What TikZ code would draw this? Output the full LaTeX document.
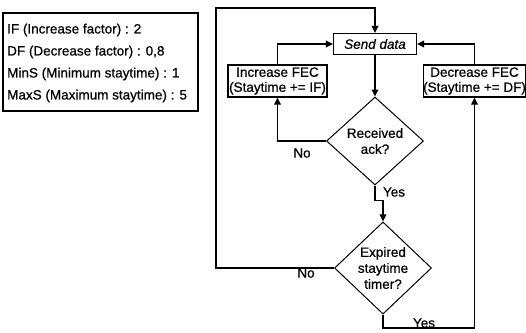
\documentclass[tikz,border=0pt]{standalone}
\usepackage{fontspec}
\setmainfont{Liberation Sans}
\usetikzlibrary{shapes.geometric,arrows.meta}
\newcommand{\heavy}{\addfontfeature{FakeBold=0.6}}
\begin{document}
\begin{tikzpicture}[x=1pt,y=-1pt,
 box/.style={draw,line width=1.1pt,inner sep=0pt,align=center,font={\fontsize{13.5}{15}\selectfont\heavy}},
 decision/.style={draw,diamond,line width=1pt,inner sep=0pt,aspect=1,align=center,font={\fontsize{13.5}{16}\selectfont\heavy}},
 conn/.style={line width=1.8pt},
 arr/.style={conn,-{Triangle[length=7pt,width=6.5pt]}},
 lbl/.style={font={\fontsize{13.5}{15}\selectfont\heavy},inner sep=0pt},
 leg/.style={anchor=west,inner sep=0pt,font={\fontsize{13.5}{15}\selectfont\heavy}}]
\useasboundingbox (0,0) rectangle (526,332);
% legend
\node[draw,line width=1.1pt,minimum width=195pt,minimum height=98pt,inner sep=0pt] (legend) at (100.5,62) {};
\node[leg] (l1) at (7,30) {IF (Increase factor) : 2};
\node[leg] (l2) at (7,52) {DF (Decrease factor) : 0,8};
\node[leg] (l3) at (7,74) {MinS (Minimum staytime) : 1};
\node[leg] (l4) at (7,96) {MaxS (Maximum staytime) : 5};
% flowchart nodes
\node[box,minimum width=83pt,minimum height=21pt,font={\fontsize{13.5}{15}\selectfont\itshape\heavy}] (sd) at (375,44) {Send data};
\node[box,minimum width=99pt,minimum height=32pt] (inc) at (277.5,81) {Increase FEC\\(Staytime += IF)};
\node[box,minimum width=102pt,minimum height=32pt] (dcr) at (474.5,81) {Decrease FEC\\(Staytime += DF)};
\node[decision,minimum width=97pt,minimum height=88pt] (ra) at (375,141) {Received\\ack?};
\node[decision,minimum width=97pt,minimum height=86pt] (ex) at (383,268) {Expired\\staytime\\timer?};
\coordinate (tl) at (216,8);
\coordinate (br) at (474.5,328);
% connectors
\draw[arr] (sd.south) -- (ra.north);
\draw[arr] (ra.west) -| (inc.south);
\draw[arr] (inc.north) |- (sd.west);
\draw[arr] (dcr.north) |- (sd.east);
\draw[arr] (ra.south) -- ++(0,15) -| (ex.north);
\draw[arr] (ex.west) -| (tl) -| (sd.north);
\draw[arr] (ex.south) |- (br) -- (dcr.south);
% labels
\node[lbl] (no1) at (302,153) {No};
\node[lbl] (yes1) at (394,192) {Yes};
\node[lbl] (no2) at (306,273) {No};
\node[lbl] (yes2) at (424,323) {Yes};
\end{tikzpicture}
\end{document}
